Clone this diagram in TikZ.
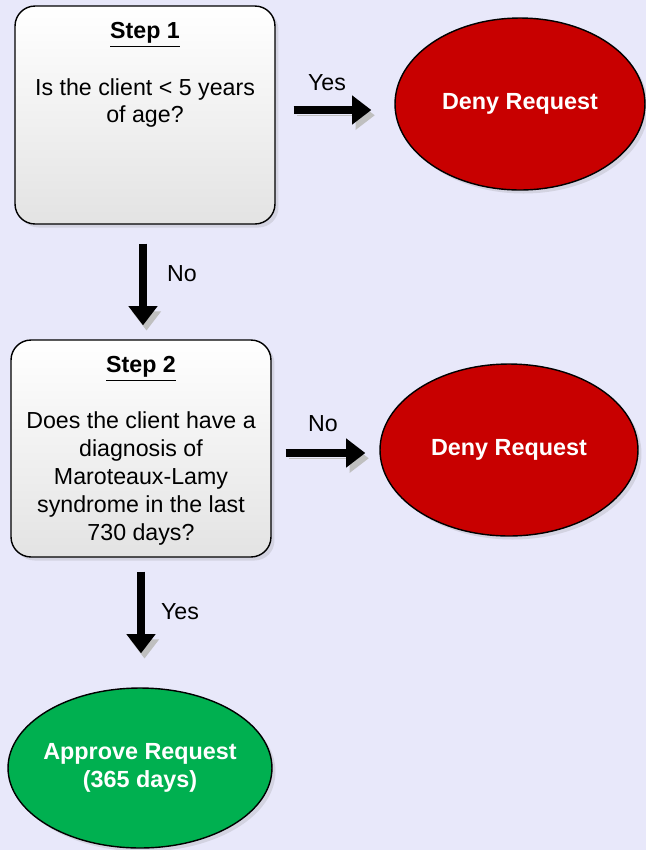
\documentclass[tikz,border=0pt]{standalone}
\usepackage{fontspec}
\setmainfont{Liberation Sans}
\usetikzlibrary{shapes.geometric,arrows.meta,shadows}
\definecolor{bgcol}{RGB}{232,232,250}
\definecolor{denyred}{RGB}{200,0,0}
\definecolor{okgreen}{RGB}{0,176,80}
\begin{document}
\begin{tikzpicture}[x=0.02cm, y=-0.02cm]
\tikzset{stepbox/.style={draw, rounded corners=0.4cm, line width=0.8pt, minimum width=5.2cm, top color=white, bottom color=gray!22, drop shadow={opacity=0.2, shadow xshift=2pt, shadow yshift=-2pt}},
  txt/.style={font=\fontsize{13.2}{15.9}\selectfont, align=center, inner sep=0pt},
  outcome/.style={draw, ellipse, line width=0.8pt, inner xsep=-0.4cm, inner ysep=0pt, text=white, align=center, font=\fontsize{13.3}{16.2}\selectfont\bfseries, drop shadow={opacity=0.2, shadow xshift=2pt, shadow yshift=-2pt}},
  bigarrow/.style={line width=4.5pt, -{Triangle[length=11pt, width=16pt]}, preaction={draw=black!25, transform canvas={shift={(2pt,-3pt)}}}}}
\fill[bgcol] (0,0) rectangle (646,850);
\useasboundingbox (0,0) rectangle (646,850);
% step 1
\node[stepbox, minimum height=4.36cm] (step1) at (145,115) {};
\node[txt] (title1) at (145,35) {\textbf{\underline{Step 1}}};
\node[txt] (ask1) at (145,103) {Is the client < 5 years\\of age?};
\node[outcome, fill=denyred, minimum width=5cm, minimum height=3.44cm] (deny1) at (520,104) {Deny Request};
% step 2
\node[stepbox, minimum height=4.34cm] (step2) at (141,448.5) {};
\node[txt] (title2) at (141,369) {\textbf{\underline{Step 2}}};
\node[txt] (ask2) at (141,478.5) {Does the client have a\\diagnosis of\\Maroteaux-Lamy\\syndrome in the last\\730 days?};
\node[outcome, fill=denyred, minimum width=5.16cm, minimum height=3.44cm] (deny2) at (509,450) {Deny Request};
\node[outcome, fill=okgreen, minimum width=5.28cm, minimum height=3.2cm] (approve) at (140,768) {Approve Request\\(365 days)};
% arrows
\draw[bigarrow, shorten <=0.36cm, shorten >=0.46cm] (step1.east |- 0,110) -- (deny1.west |- 0,110);
\draw[bigarrow, shorten <=0.38cm, shorten >=0.28cm] (step1.south -| 143,0) -- (step2.north -| 143,0);
\draw[bigarrow, shorten <=0.28cm, shorten >=0.28cm] (step2.east |- 0,453) -- (deny2.west |- 0,453);
\draw[bigarrow, shorten <=0.28cm, shorten >=0.68cm] (step2.south -| 141,0) -- (approve.north -| 141,0);
\node[txt] (yes1) at (327,83) {Yes};
\node[txt] (no1) at (182,274) {No};
\node[txt] (no2) at (323,424) {No};
\node[txt] (yes2) at (180,612) {Yes};
\end{tikzpicture}
\end{document}
